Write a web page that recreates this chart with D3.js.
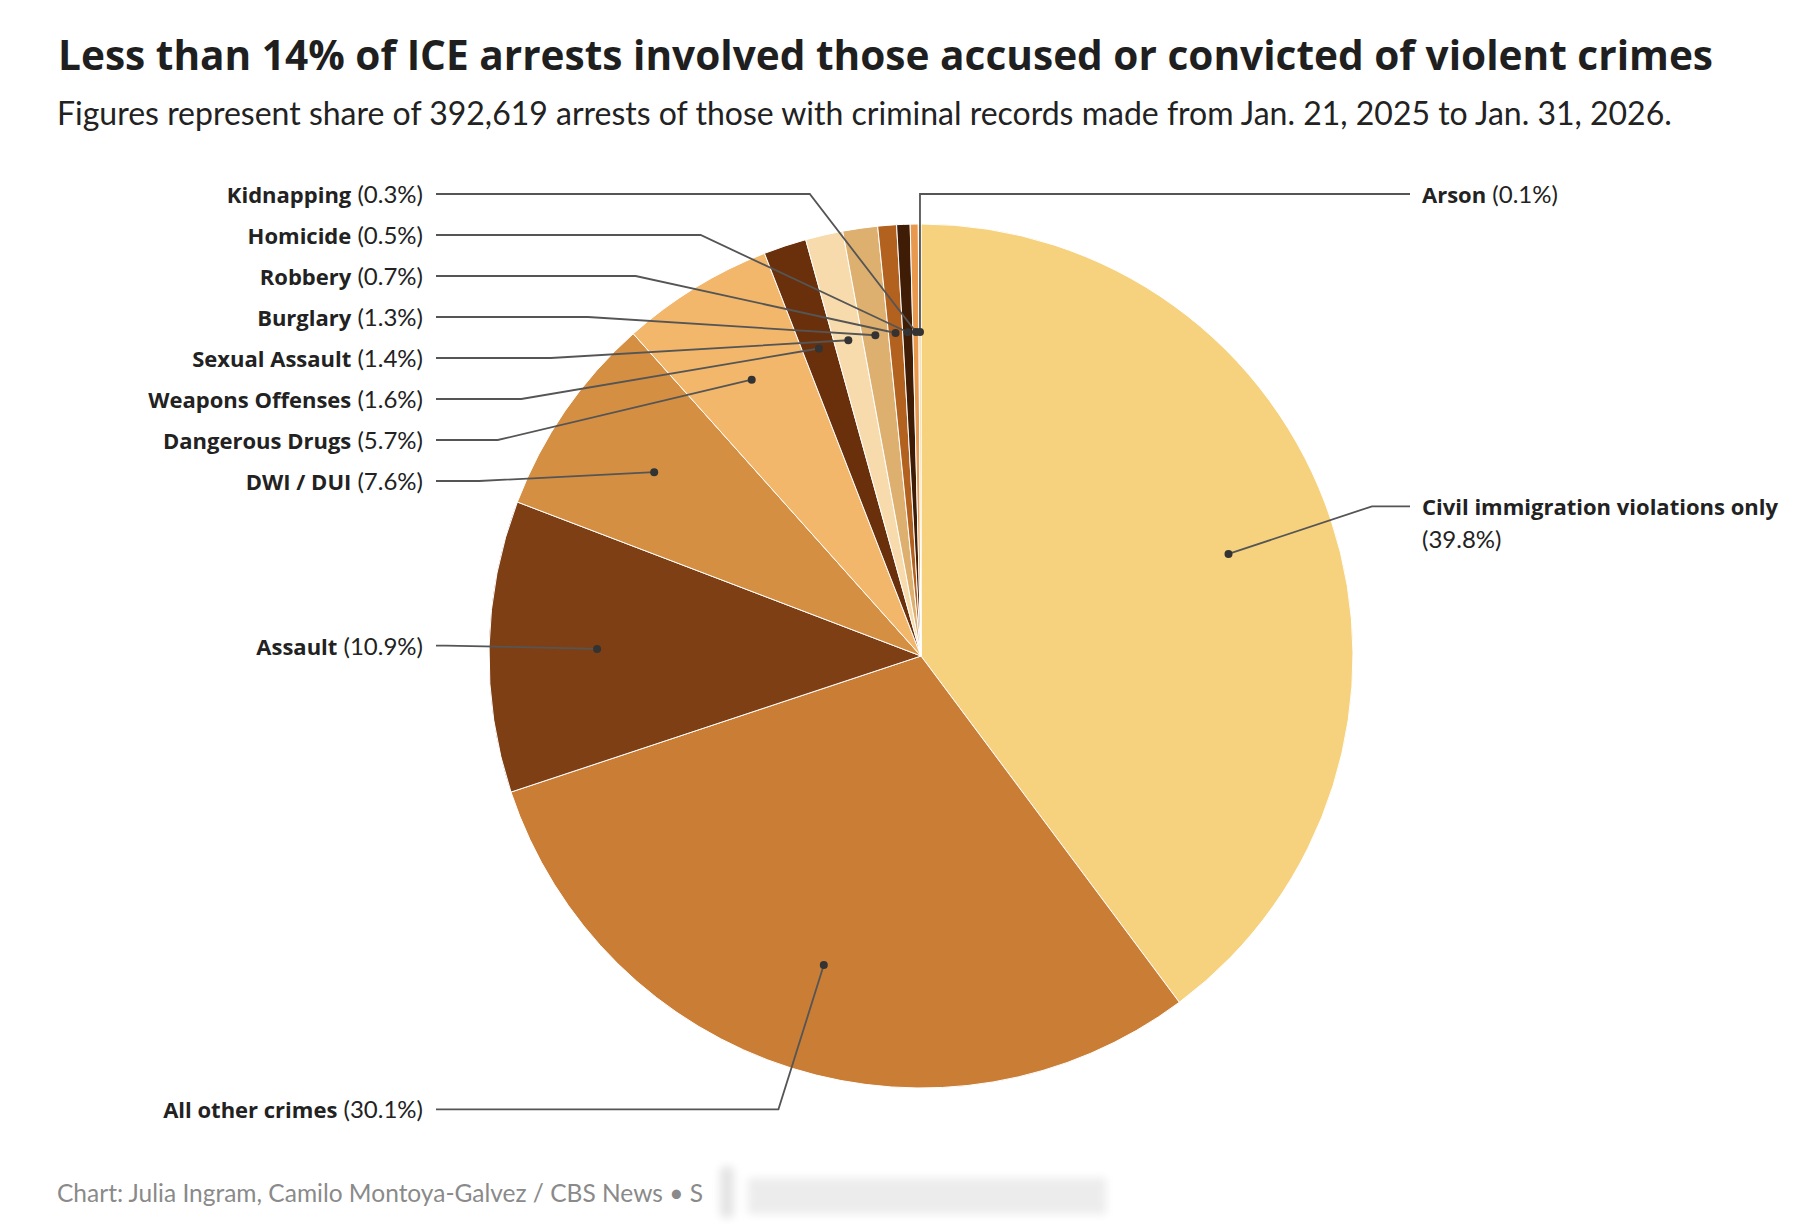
<!DOCTYPE html>
<html>
<head>
<meta charset="utf-8">
<script src="https://cdn.jsdelivr.net/npm/d3@7"></script>
<style>
  body { margin: 0; background: #fff; }
  text { font-family: Lato, "Noto Sans", sans-serif; }
  .bold { font-family: "Open Sans", Lato, sans-serif; font-weight: 700; }
</style>
</head>
<body>
<div id="chart"></div>
<script>
// Data
//= ================================
var categories = [
    "Civil immigration violations only",
    "All other crimes",
    "Assault",
    "DWI / DUI",
    "Dangerous Drugs",
    "Weapons Offenses",
    "Sexual Assault",
    "Burglary",
    "Robbery",
    "Homicide",
    "Kidnapping",
    "Arson"
];
var shares = [39.8, 30.1, 10.9, 7.6, 5.7, 1.6, 1.4, 1.3, 0.7, 0.5, 0.3, 0.1];

var sliceColors = [
    "#f6d27f", "#ca7d35", "#7e3f14", "#d58f43", "#f2b76b", "#6a300b",
    "#f8dbac", "#ddb06f", "#b3611f", "#3f1c06", "#e8994d", "#f3c475"
];

// Setup the chart
//= ================================
var svgWidth = 1808;
var svgHeight = 1232;

var cx = 921;
var cy = 656;
var radius = 432;
var dotRadius = radius * 0.75;
var elbowRadius = radius * 1.1;
var labelGap = 41;
var topLimit = cy - radius - 30;
var leftTextX = 423;
var rightTextX = 1422;

var svg = d3.select("#chart")
    .append("svg")
    .attr("width", svgWidth)
    .attr("height", svgHeight);

svg.append("text")
    .attr("class", "bold")
    .attr("x", 58)
    .attr("y", 70)
    .attr("font-size", "40.6px")
    .attr("fill", "#1f1f1f")
    .text("Less than 14% of ICE arrests involved those accused or convicted of violent crimes");

svg.append("text")
    .attr("x", 57)
    .attr("y", 125)
    .attr("font-size", "32px")
    .attr("fill", "#222")
    .text("Figures represent share of 392,619 arrests of those with criminal records made from Jan. 21, 2025 to Jan. 31, 2026.");

var rows = categories.map(function (c, i) {
    return { label: c, share: shares[i] };
});

var color = d3.scaleOrdinal()
    .domain(categories)
    .range(sliceColors);

var pie = d3.pie()
    .sort(null)
    .value(d => d.share);

var arcs = pie(rows);

var arc = d3.arc()
    .innerRadius(0)
    .outerRadius(radius);

var pieGroup = svg.append("g")
    .attr("transform", `translate(${cx}, ${cy})`);

pieGroup.selectAll("path")
    .data(arcs)
    .enter()
    .append("path")
    .attr("d", arc)
    .attr("fill", d => color(d.data.label))
    .attr("stroke", "#fff")
    .attr("stroke-width", 1);

// Label placement
//= ================================
var fmt = d3.format(".1f");
var nearTop = 0.5 * Math.PI / 180;

arcs.forEach(function (d) {
    var mid = (d.startAngle + d.endAngle) / 2;
    d.mid = mid;
    d.side = (mid < Math.PI || mid > 2 * Math.PI - nearTop) ? 1 : -1;
    d.dotX = cx + dotRadius * Math.sin(mid);
    d.dotY = cy - dotRadius * Math.cos(mid);
    d.naturalY = cy - elbowRadius * Math.cos(mid);
});

[1, -1].forEach(function (side) {
    var group = arcs.filter(d => d.side === side)
        .sort((a, b) => a.naturalY - b.naturalY);
    var prev = -Infinity;
    group.forEach(function (d) {
        d.labelY = Math.max(d.naturalY, topLimit, prev + labelGap);
        prev = d.labelY;
    });
});

arcs.forEach(function (d) {
    var dy = d.labelY - cy;
    var span = Math.sqrt(Math.max(0, elbowRadius * elbowRadius - dy * dy));
    if (d.side < 0) {
        d.elbowX = cx - span;
        d.endX = leftTextX + 13;
    } else {
        d.elbowX = d.dotX < cx ? d.dotX : cx + span;
        d.endX = rightTextX - 12;
    }
});

var labelGroup = svg.append("g");

labelGroup.selectAll("path")
    .data(arcs)
    .enter()
    .append("path")
    .attr("d", d => `M${d.dotX},${d.dotY}L${d.elbowX},${d.labelY}L${d.endX},${d.labelY}`)
    .attr("fill", "none")
    .attr("stroke", "#555")
    .attr("stroke-width", 1.8);

labelGroup.selectAll("circle")
    .data(arcs)
    .enter()
    .append("circle")
    .attr("cx", d => d.dotX)
    .attr("cy", d => d.dotY)
    .attr("r", 4)
    .attr("fill", "#333");

var labels = labelGroup.selectAll("text")
    .data(arcs)
    .enter()
    .append("text")
    .attr("x", d => d.side < 0 ? leftTextX : rightTextX)
    .attr("y", d => d.labelY + 9)
    .attr("text-anchor", d => d.side < 0 ? "end" : "start")
    .attr("font-size", "23px")
    .attr("fill", "#222");

labels.append("tspan")
    .attr("class", "bold")
    .attr("font-size", "22px")
    .text(d => d.data.label);

labels.append("tspan")
    .attr("class", "pct")
    .attr("font-size", "24px")
    .text(d => " (" + fmt(d.data.share) + "%)");

// Wrap right-hand labels that run past the edge
labels.filter(d => d.side > 0).each(function (d) {
    var node = this;
    if (rightTextX + node.getComputedTextLength() > svgWidth - 20) {
        d3.select(node).select(".pct")
            .attr("x", rightTextX)
            .attr("dy", 33)
            .text("(" + fmt(d.data.share) + "%)");
    }
});

// Footer
//= ================================
svg.append("text")
    .attr("x", 57)
    .attr("y", 1202)
    .attr("font-size", "24.5px")
    .attr("fill", "#8a8a8a")
    .text("Chart: Julia Ingram, Camilo Montoya-Galvez / CBS News \u2022 S");

svg.append("defs")
    .append("filter")
    .attr("id", "blur")
    .append("feGaussianBlur")
    .attr("stdDeviation", 4);

var smudge = svg.append("g")
    .attr("filter", "url(#blur)")
    .attr("fill", "#e4e4e4");

smudge.append("rect").attr("x", 720).attr("y", 1166).attr("width", 14).attr("height", 52).attr("rx", 6);
smudge.append("rect").attr("x", 748).attr("y", 1178).attr("width", 358).attr("height", 36).attr("opacity", 0.7);
</script>
</body>
</html>
